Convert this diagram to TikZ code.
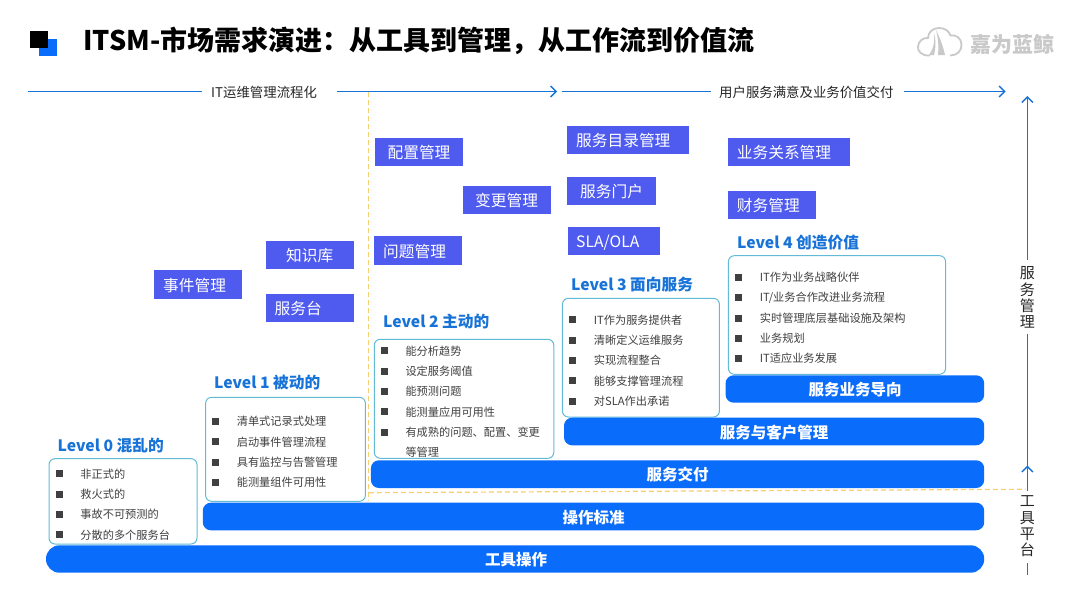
\documentclass[tikz,border=0pt]{standalone}
\usepackage{fontspec}
\setmainfont{Noto Sans CJK SC}
\usetikzlibrary{arrows.meta}
\definecolor{barblue}{HTML}{0A6CFA}
\definecolor{tagblue}{HTML}{4F5BEE}
\definecolor{linkblue}{HTML}{1873D8}
\definecolor{boxteal}{HTML}{62BBD6}
\definecolor{dashyellow}{HTML}{F6D071}
\definecolor{itemgray}{HTML}{404040}
\definecolor{logogray}{HTML}{C9C9C9}
\tikzset{
	tagbox/.style={fill=tagblue, text=white, font=\fontsize{15.7}{18}\selectfont, anchor=west, align=left, minimum height=28.3pt, inner ysep=0pt, text height=14pt, text depth=0.8pt},
	levelbox/.style={draw=boxteal, line width=1pt, rounded corners=6pt, fill=white},
	levelhead/.style={text=linkblue, font=\fontsize{15.7}{18}\bfseries\selectfont, anchor=west, inner sep=0pt, yshift=-0.8pt},
	itemtext/.style={text=itemgray, font=\fontsize{11.2}{13}\selectfont, anchor=west, inner sep=0pt, yshift=-0.4pt},
	itemdot/.style={fill=itemgray, minimum size=7pt, inner sep=0pt},
	barbox/.style={fill=barblue, rounded corners=8pt},
	bartext/.style={text=white, font=\fontsize{15.5}{18}\bfseries\selectfont, inner sep=0pt, yshift=-0.7pt},
	flowline/.style={draw=linkblue, line width=1.5pt},
	flowtip/.style={-{Straight Barb[length=5.5pt,width=11pt,line width=1.4pt]}},
	flowtext/.style={text=black!85, font=\fontsize{13.4}{16}\selectfont, anchor=west, align=left, inner ysep=2pt, text height=12pt, text depth=0.5pt},
	axistext/.style={text=black!85, font=\fontsize{15}{16.3}\selectfont, align=center, inner sep=0pt},
	yellowdash/.style={draw=dashyellow, line width=1.2pt, dash pattern=on 5pt off 3pt},
}
\begin{document}
\begin{tikzpicture}[x=1pt,y=-1pt]
	\useasboundingbox (0,0) rectangle (1080,608);
	\fill[white] (0,0) rectangle (1080,608);

	%%%%% title %%%%%
	\fill[barblue] (39,39.3) rectangle (56.5,56.3);
	\fill[black] (30.3,30.7) rectangle (47.5,47.7);
	\node[anchor=west, inner sep=0pt, font=\fontsize{27}{30}\bfseries\selectfont] (title) at (83,40.5) {ITSM-市场需求演进\char"FF1A{}从工具到管理\char"FF0C{}从工作流到价值流};

	%%%%% logo %%%%%
	\draw[logogray, line width=1.8pt] (930,55.5) .. controls (921,56) and (917.5,51) .. (918,46.5) .. controls (918.5,41) and (923,37.5) .. (928,38) .. controls (928,32) and (933,28) .. (939,28) .. controls (945,28) and (949,31) .. (950.5,35.5) .. controls (956,34.5) and (961,38) .. (961.5,44) .. controls (962,51) and (957,55.5) .. (950,55.5);
	\fill[logogray] (936,30) .. controls (940,38) and (943,46) .. (945,55) -- (938,55) .. controls (939,46) and (938,38) .. (936,30);
	\fill[logogray] (934,33) .. controls (935,42) and (933,50) .. (929,55) -- (934,55) .. controls (936,48) and (936,40) .. (934,33);
	\node[logogray, anchor=west, inner sep=0pt, font=\fontsize{21}{24}\bfseries\selectfont] (logotext) at (970,44.3) {嘉为蓝鲸};

	%%%%% yellow dashes %%%%%
	\coordinate (dashtop) at (368.8,92);
	\coordinate (dashcorner) at (368.8,492.7);
	\coordinate (dashend) at (1025.5,489.3);
	\draw[yellowdash] (dashtop) -- (368.8,501);
	\draw[yellowdash] (dashcorner) -- (dashend);

	%%%%% top flow %%%%%
	\node[flowtext, inner xsep=9pt, text width=116.8pt] (itflow) at (202,91.5) {IT运维管理流程化};
	\node[flowtext, inner xsep=8.5pt, text width=176.5pt] (userflow) at (710.5,91.5) {用户服务满意及业务价值交付};
	\coordinate (itstart) at (28,91.5);
	\coordinate (itend) at (557,91.5);
	\coordinate (userstart) at (562.4,91.5);
	\coordinate (userend) at (1005.6,91.5);
	\draw[flowline] (itstart) -- (itflow);
	\draw[flowline, flowtip] (itflow) -- (itend);
	\draw[flowline] (userstart) -- (userflow);
	\draw[flowline, flowtip] (userflow) -- (userend);

	%%%%% right axis %%%%%
	\node[axistext] (mgmtaxis) at (1027.3,297.5) {服\\务\\管\\理};
	\node[axistext] (toolaxis) at (1027.3,526.3) {工\\具\\平\\台};
	\coordinate (mgmttop) at (1027.3,96);
	\coordinate (toolmid) at (1027.3,465.5);
	\coordinate (toolbottom) at (1027.3,575);
	\draw[flowline, flowtip] (1027.3,260) -- (mgmttop);
	\draw[flowline] (1027.3,334.3) -- (toolmid);
	\draw[flowline, flowtip] (1027.3,490.5) -- (toolmid);
	\draw[flowline] (1027.3,563) -- (toolbottom);

	%%%%% tags %%%%%
	\node[tagbox, inner xsep=12.4pt, text width=62.8pt] (tagcfg) at (375,152) {配置管理};
	\node[tagbox, inner xsep=12pt, text width=64pt] (tagchange) at (463,200) {变更管理};
	\node[tagbox, inner xsep=20.5pt, text width=47.5pt] (tagknow) at (265.5,255) {知识库};
	\node[tagbox, inner xsep=9pt, text width=69.4pt] (tagproblem) at (374,250.5) {问题管理};
	\node[tagbox, inner xsep=9pt, text width=69.7pt] (tagevent) at (154,284.4) {事件管理};
	\node[tagbox, inner xsep=9pt, text width=70.5pt] (tagdesk) at (265.5,307.9) {服务台};
	\node[tagbox, inner xsep=9pt, text width=104pt] (tagcatalog) at (567,140) {服务目录管理};
	\node[tagbox, inner xsep=13pt, text width=62.7pt] (tagportal) at (567,190.9) {服务门户};
	\node[tagbox, inner xsep=8pt, text width=76pt] (tagsla) at (568,241) {SLA/OLA};
	\node[tagbox, inner xsep=9pt, text width=104.3pt] (tagrelation) at (727.7,152.3) {业务关系管理};
	\node[tagbox, inner xsep=9pt, text width=70.3pt] (tagfinance) at (727.7,205) {财务管理};

	%%%%% levels %%%%%
	\node[levelhead] (head0) at (57.5,445) {Level 0 混乱的};
	\node[levelhead] (head1) at (214,381.7) {Level 1 被动的};
	\node[levelhead] (head2) at (383,320.7) {Level 2 主动的};
	\node[levelhead] (head3) at (571,284) {Level 3 面向服务};
	\node[levelhead] (head4) at (737,242) {Level 4 创造价值};

	\draw[levelbox] (49,458.7) rectangle (197,544);
	\draw[levelbox] (205.6,397.3) rectangle (365.4,501.3);
	\draw[levelbox] (374.3,339.3) rectangle (553.8,458.3);
	\draw[levelbox] (562.4,298.3) rectangle (719.4,417);
	\draw[levelbox] (728.4,255.7) rectangle (945.6,374.3);

	\foreach \y/\t [count=\n] in {473.7/非正式的,494/救火式的,514/事故不可预测的,534.5/分散的多个服务台}{
		\node[itemdot] (dota\n) at (59.2,\y) {};
		\node[itemtext] (itema\n) at (80.2,\y) {\t};
	}
	\foreach \y/\t [count=\n] in {421.3/清单式记录式处理,441.6/启动事件管理流程,462/具有监控与告警管理,482/能测量组件可用性}{
		\node[itemdot] (dotb\n) at (215.6,\y) {};
		\node[itemtext] (itemb\n) at (236.6,\y) {\t};
	}
	\foreach \y/\t [count=\n] in {350.7/能分析趋势,371/设定服务阈值,391.3/能预测问题,411.7/能测量应用可用性,432/有成熟的问题、配置、变更}{
		\node[itemdot] (dotc\n) at (384.6,\y) {};
		\node[itemtext] (itemc\n) at (405.3,\y) {\t};
	}
	\node[itemtext] (itemc6) at (405.3,452) {等管理};
	\foreach \y/\t [count=\n] in {319.7/IT作为服务提供者,340/清晰定义运维服务,360.3/实现流程整合,380.7/能够支撑管理流程,401/对SLA作出承诺}{
		\node[itemdot] (dotd\n) at (572.7,\y) {};
		\node[itemtext] (itemd\n) at (593.7,\y) {\t};
	}
	\foreach \y/\t [count=\n] in {277/IT作为业务战略伙伴,297.3/{IT/业务合作改进业务流程},318/实时管理底层基础设施及架构,338/业务规划,358.3/IT适应业务发展}{
		\node[itemdot] (dote\n) at (738.3,\y) {};
		\node[itemtext] (iteme\n) at (759.7,\y) {\t};
	}

	%%%%% bars %%%%%
	\fill[barbox] (725.6,375.3) rectangle (984.2,402.7);
	\fill[barbox] (564,417.7) rectangle (984.2,445.3);
	\fill[barbox] (370.9,460.3) rectangle (984.2,488);
	\fill[barbox] (202.8,502.7) rectangle (984.2,530.3);
	\fill[barbox, rounded corners=13.5pt] (46,545.3) rectangle (984.2,572.7);
	\node[bartext] (barbiz) at (855,389) {服务业务导向};
	\node[bartext] (barcust) at (774,431.5) {服务与客户管理};
	\node[bartext] (bardeliver) at (677.7,474.2) {服务交付};
	\node[bartext] (barstd) at (593.7,516.5) {操作标准};
	\node[bartext] (bartool) at (516,559) {工具操作};
\end{tikzpicture}
\end{document}
